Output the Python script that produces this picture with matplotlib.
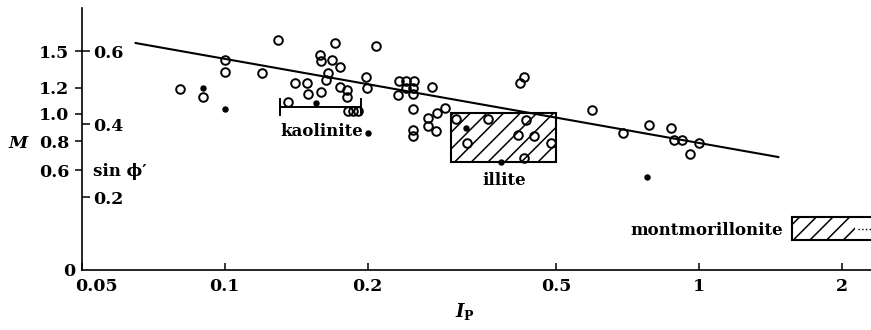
import numpy as np
import matplotlib.pyplot as plt
import matplotlib.transforms as mtransforms
from matplotlib.patches import Rectangle
from matplotlib.ticker import NullLocator

plt.rcParams['font.family'] = ['DejaVu Serif']
plt.rcParams['font.weight'] = 'bold'
plt.rcParams['mathtext.fontset'] = 'custom'
plt.rcParams['mathtext.it'] = 'DejaVu Serif:italic:bold'
plt.rcParams['mathtext.rm'] = 'DejaVu Serif:bold'
plt.rcParams['hatch.linewidth'] = 1.1

# data: plasticity index I_P and sin(phi')
ip_open = [0.0804, 0.0899, 0.100, 0.100, 0.120, 0.1295, 0.1408, 0.136,
           0.1707, 0.2088, 0.1587, 0.1596, 0.1682, 0.1747, 0.1650, 0.1632,
           0.1494, 0.1497, 0.1593, 0.1751, 0.1809, 0.1809, 0.1818, 0.1862,
           0.1908, 0.1989, 0.1992, 0.2332, 0.2415, 0.2509, 0.2321, 0.2407,
           0.2500, 0.2497, 0.2729, 0.2500, 0.2489, 0.2489, 0.2685, 0.2685,
           0.2803, 0.2911, 0.2790, 0.4193, 0.4285, 0.3074, 0.3590, 0.4321,
           0.3248, 0.4150, 0.4497, 0.4875, 0.4273, 0.5954, 0.690, 0.7844,
           0.8713, 0.885, 0.922, 0.999, 0.957]
sin_open = [0.495, 0.475, 0.576, 0.543, 0.541, 0.630, 0.512, 0.460,
            0.621, 0.615, 0.590, 0.572, 0.575, 0.557, 0.540, 0.521,
            0.512, 0.482, 0.488, 0.502, 0.494, 0.475, 0.435, 0.435,
            0.435, 0.530, 0.500, 0.518, 0.518, 0.518, 0.479, 0.498,
            0.499, 0.483, 0.502, 0.440, 0.384, 0.366, 0.416, 0.395,
            0.431, 0.443, 0.381, 0.513, 0.529, 0.414, 0.414, 0.412,
            0.349, 0.370, 0.367, 0.349, 0.308, 0.4375, 0.3745, 0.397,
            0.388, 0.356, 0.356, 0.347, 0.317]

ip_filled = [0.0899, 0.100, 0.1556, 0.3227, 0.3828, 0.778, 0.2006]
sin_filled = [0.498, 0.442, 0.457, 0.389, 0.295, 0.254, 0.3745]

# fitted line
line_ip = [0.0649, 1.469]
line_sin = [0.622, 0.3096]

# ranges for clay minerals
kaolinite_ip = [0.1308, 0.1936]
kaolinite_sin = 0.4466
illite_ip = [0.30, 0.50]
illite_sin = [0.297, 0.430]
montmor_ip = [1.572, 2.13]
montmor_sin = [0.081, 0.145]

m_ticks = [0.6, 0.8, 1.0, 1.2, 1.5]
sin_ticks = [0.2, 0.4, 0.6]
x_ticks = [0.05, 0.1, 0.2, 0.5, 1, 2]
x_labels = ['0.05', '0.1', '0.2', '0.5', '1', '2']


def m_to_sin(m):
    return 3 * m / (6 + m)


fig = plt.figure(figsize=(8.71, 3.30), dpi=100)
ax = fig.add_axes([0.0941, 0.1818, 0.9059, 0.7939])
ax.set_xscale('log')
ax.set_xlim(0.05, 2.304)
ax.set_ylim(0, 0.718)

ax.plot(line_ip, line_sin, color='k', lw=1.5)
ax.plot(ip_open, sin_open, 'o', ms=6.2, mfc='none', mec='k', mew=1.4, ls='none')
ax.plot(ip_filled, sin_filled, 'o', ms=3.6, color='k', ls='none')

# kaolinite bracket
ax.plot(kaolinite_ip, [kaolinite_sin] * 2, color='k', lw=1.4)
for x in kaolinite_ip:
    ax.plot([x, x], [kaolinite_sin - 0.023, kaolinite_sin + 0.023], color='k', lw=1.4)
ax.text(0.1603, 0.379, 'kaolinite', ha='center', va='center', fontsize=12)

# illite box
ax.add_patch(Rectangle((illite_ip[0], illite_sin[0]), illite_ip[1] - illite_ip[0],
                       illite_sin[1] - illite_sin[0], fill=False, hatch='//',
                       ec='k', lw=1.5))
ax.text(0.388, 0.244, 'illite', ha='center', va='center', fontsize=12)

# montmorillonite box (runs off the right edge)
ax.add_patch(Rectangle((montmor_ip[0], montmor_sin[0]), montmor_ip[1] - montmor_ip[0],
                       montmor_sin[1] - montmor_sin[0], fill=False, hatch='//',
                       ec='k', lw=0))
ax.plot([montmor_ip[0]] * 2, montmor_sin, color='k', lw=1.5)
for y in montmor_sin:
    ax.plot([montmor_ip[0], 2.6], [y, y], color='k', lw=1.5)
ax.plot([montmor_ip[1] + 0.03, 2.6], [np.mean(montmor_sin)] * 2, color='k', lw=1, ls=':')
ax.text(1.505, 0.108, 'montmorillonite', ha='right', va='center', fontsize=12)

# axes styling
for s in ['top', 'right']:
    ax.spines[s].set_visible(False)
for s in ['left', 'bottom']:
    ax.spines[s].set_linewidth(1.2)

ax.set_xticks(x_ticks)
ax.set_xticklabels(x_labels)
ax.xaxis.set_minor_locator(NullLocator())
ax.tick_params(axis='x', direction='in', length=5, width=1.1, pad=6, labelsize=12.5)
lab0 = ax.get_xticklabels()[0]
lab0.set_ha('left')
lab0.set_transform(lab0.get_transform() +
                   mtransforms.ScaledTranslation(-0.07, 0, fig.dpi_scale_trans))

ax.yaxis.remove_overlapping_locs = False
ax.set_yticks([m_to_sin(m) for m in m_ticks])
ax.set_yticklabels(['%.1f' % m for m in m_ticks])
ax.set_yticks(sin_ticks, minor=True)
ax.set_yticklabels(['%.1f' % s for s in sin_ticks], minor=True)
ax.tick_params(axis='y', which='major', direction='out', length=5, width=1.1,
               pad=4, labelsize=12.5)
ax.tick_params(axis='y', which='minor', direction='in', length=6, width=1.1,
               pad=-8, labelsize=12.5)
for t in ax.get_yticklabels(minor=True):
    t.set_ha('left')

ax.annotate('0', xy=(0, 0), xycoords='axes fraction', xytext=(-5, -1),
            textcoords='offset points', ha='right', va='center', fontsize=12.5)
ax.text(0.014, 0.271, "sin ϕ′", transform=ax.get_yaxis_transform(),
        ha='left', va='center', fontsize=12)
fig.text(18 / 871, 1 - 144 / 330, 'M', style='italic', ha='center', va='center',
         fontsize=12.5)
fig.text(465 / 871, 1 - 312 / 330, r'$I_{\mathrm{P}}$', ha='center', va='center',
         fontsize=13)

fig.savefig('out.png', dpi=100)
